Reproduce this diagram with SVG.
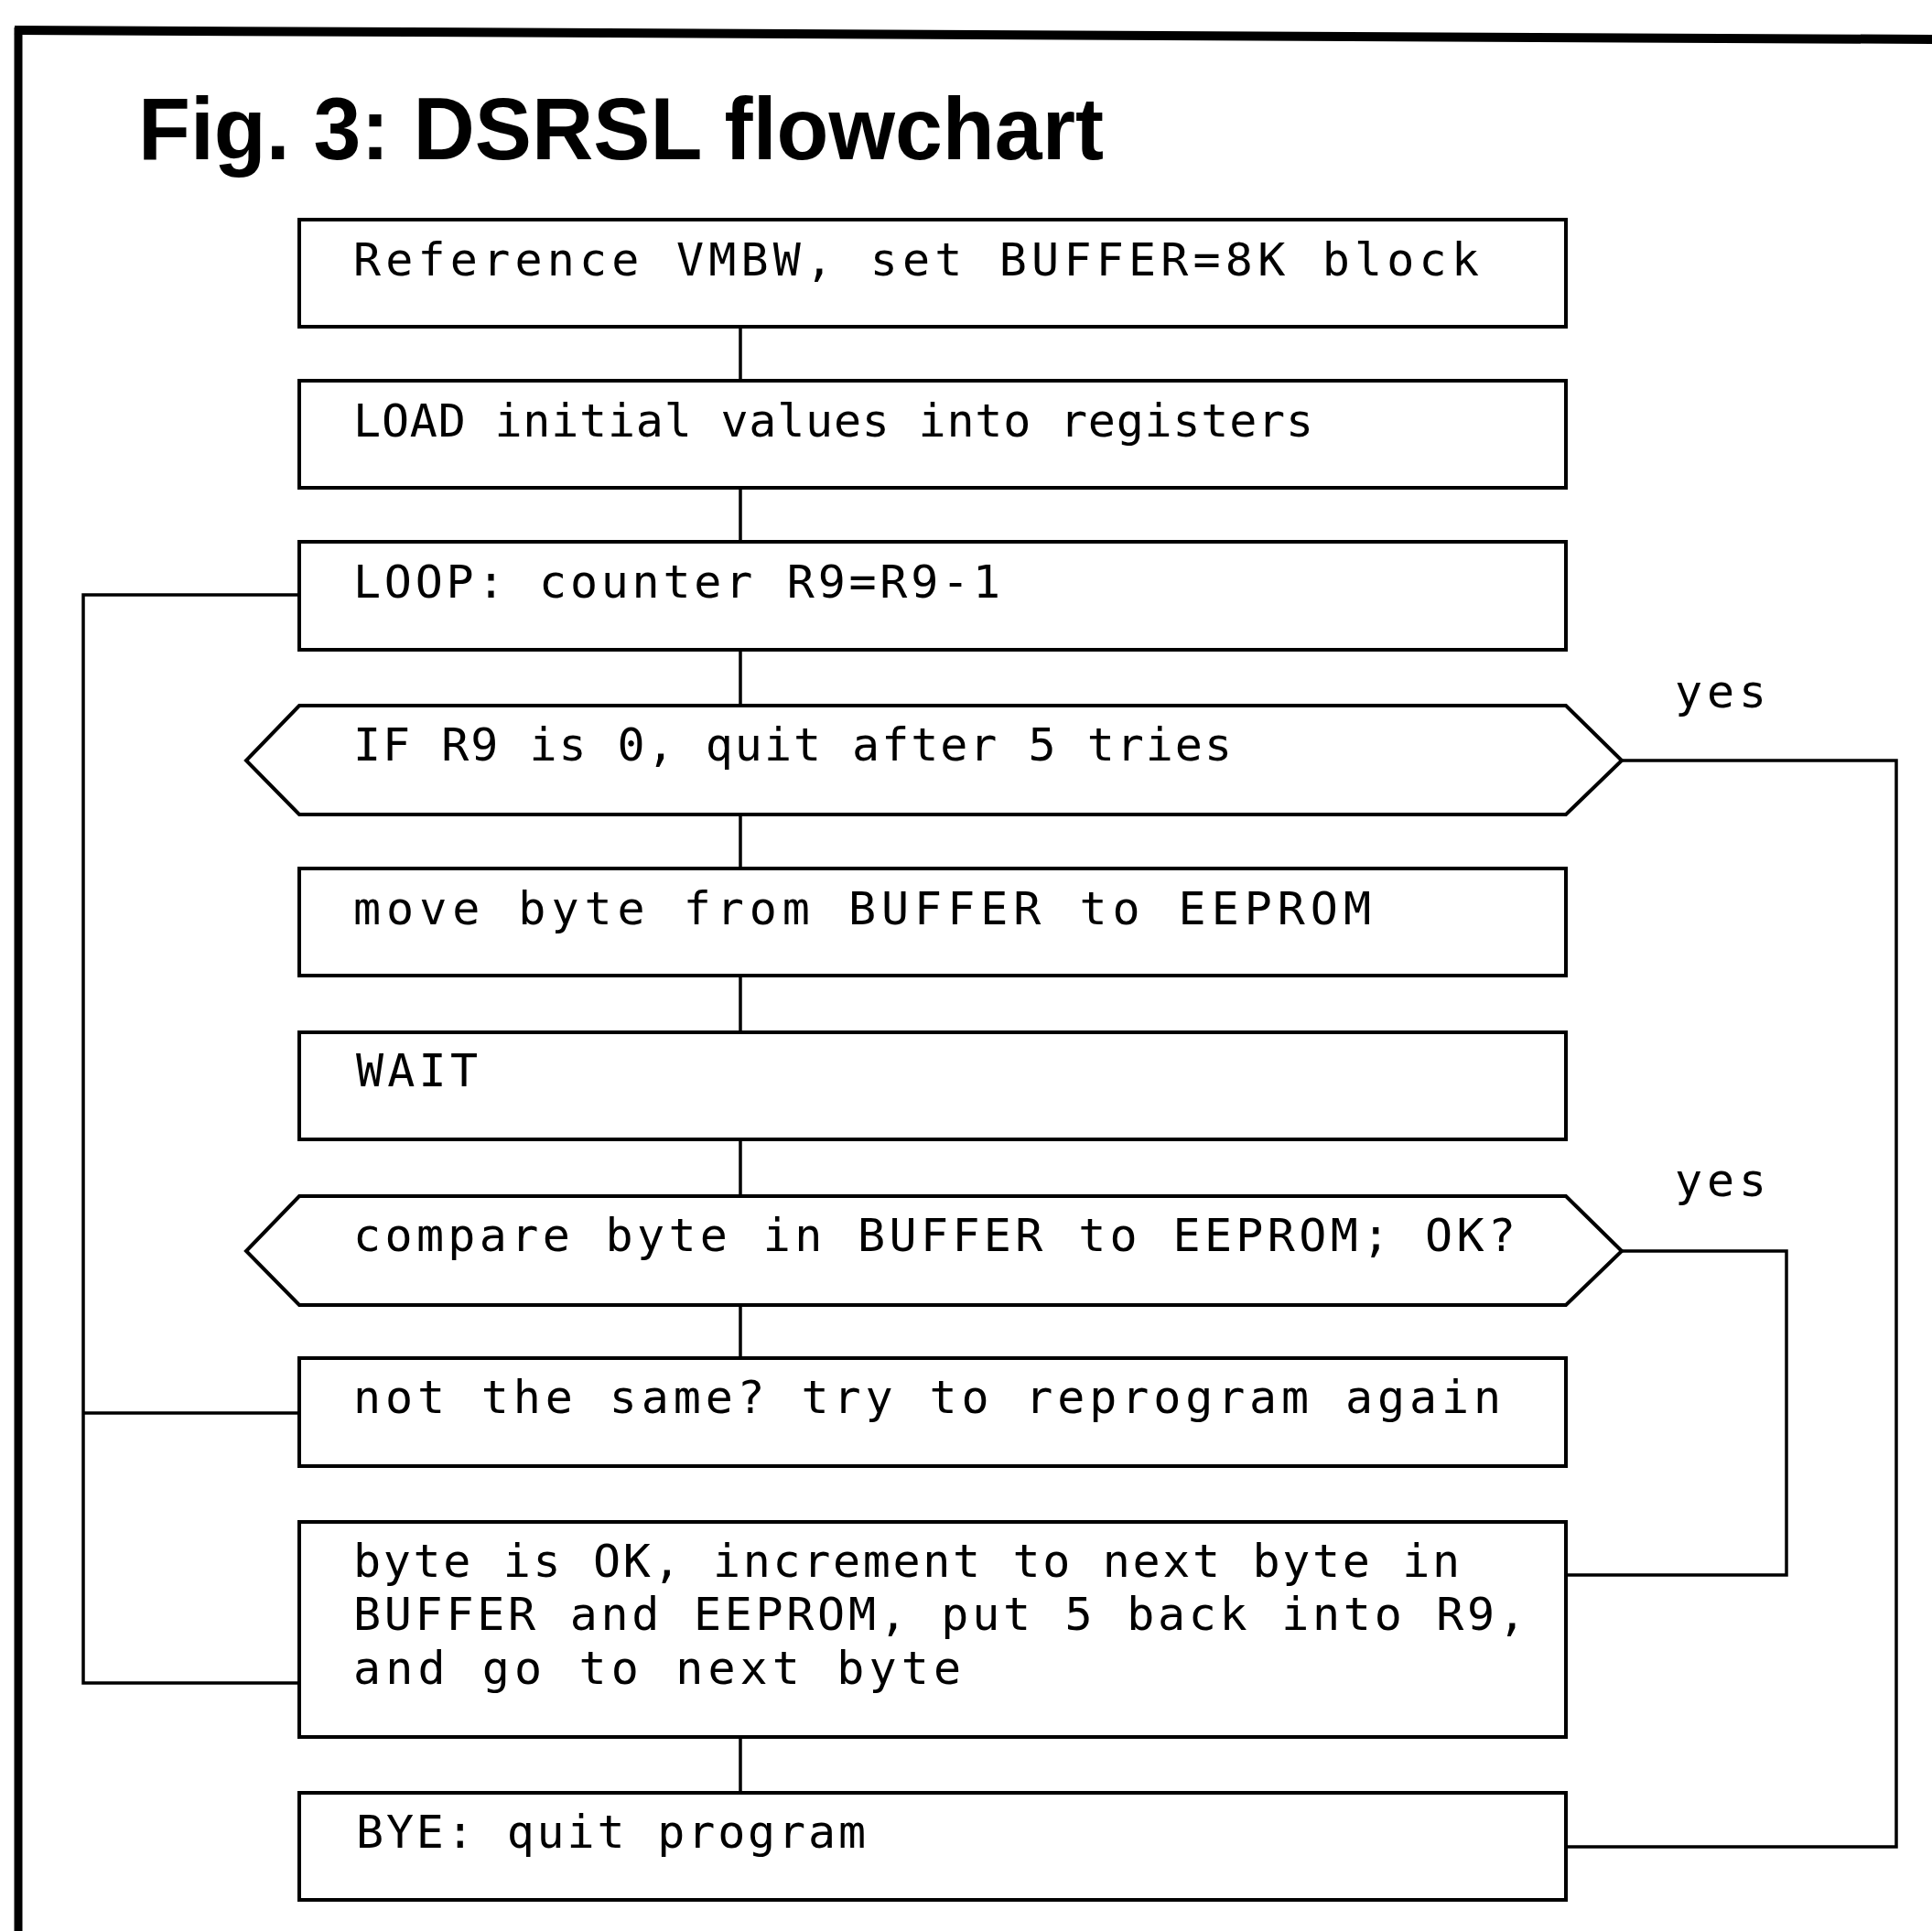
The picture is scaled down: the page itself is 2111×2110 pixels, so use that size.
<svg xmlns="http://www.w3.org/2000/svg" width="2111" height="2110" viewBox="0 0 2111 2110">
<style>
.box{fill:#fff;stroke:#000;stroke-width:4}
.conn{fill:none;stroke:#000;stroke-width:3.5}
.t{font-family:"DejaVu Sans Mono","Liberation Mono",monospace;font-size:50px;fill:#000}
.title{font-family:"Liberation Sans",Arial,sans-serif;font-weight:bold;font-size:96px;fill:#000}
</style>
<rect x="0" y="0" width="2111" height="2110" fill="#fff"/>
<g id="frame">
<line x1="16" y1="33" x2="2111" y2="43" stroke="#000" stroke-width="10"/>
<line x1="20" y1="30" x2="20" y2="2110" stroke="#000" stroke-width="9"/>
</g>
<text class="title" x="151" y="174" textLength="1055" lengthAdjust="spacingAndGlyphs">Fig. 3: DSRSL flowchart</text>
<g id="connectors">
<line class="conn" x1="809" y1="357" x2="809" y2="416"/>
<line class="conn" x1="809" y1="533" x2="809" y2="592"/>
<line class="conn" x1="809" y1="710" x2="809" y2="771"/>
<line class="conn" x1="809" y1="890" x2="809" y2="949"/>
<line class="conn" x1="809" y1="1066" x2="809" y2="1128"/>
<line class="conn" x1="809" y1="1245" x2="809" y2="1307"/>
<line class="conn" x1="809" y1="1426" x2="809" y2="1484"/>
<line class="conn" x1="809" y1="1898" x2="809" y2="1959"/>
<polyline class="conn" points="327,650 91,650 91,1839 327,1839"/>
<line class="conn" x1="91" y1="1544" x2="327" y2="1544"/>
<polyline class="conn" points="1772,831 2072,831 2072,2018 1711,2018"/>
<polyline class="conn" points="1772,1367 1952,1367 1952,1721 1711,1721"/>
<text class="t" x="1830" y="773" textLength="100" lengthAdjust="spacing">yes</text>
<text class="t" x="1830" y="1307" textLength="100" lengthAdjust="spacing">yes</text>
</g>
<g id="n1">
<rect class="box" x="327" y="240" width="1384" height="117"/>
<text class="t" x="386" y="301" textLength="1230" lengthAdjust="spacing">Reference VMBW, set BUFFER=8K block</text>
</g>
<g id="n2">
<rect class="box" x="327" y="416" width="1384" height="117"/>
<text class="t" x="386" y="477" textLength="1049" lengthAdjust="spacing">LOAD initial values into registers</text>
</g>
<g id="n3">
<rect class="box" x="327" y="592" width="1384" height="118"/>
<text class="t" x="386" y="653" textLength="707" lengthAdjust="spacing">LOOP: counter R9=R9-1</text>
</g>
<g id="n4">
<polygon class="box" points="327,771 1711,771 1772,831 1711,890 327,890 269,831"/>
<text class="t" x="386" y="831" textLength="960" lengthAdjust="spacing">IF R9 is 0, quit after 5 tries</text>
</g>
<g id="n5">
<rect class="box" x="327" y="949" width="1384" height="117"/>
<text class="t" x="386" y="1010" textLength="1112" lengthAdjust="spacing">move byte from BUFFER to EEPROM</text>
</g>
<g id="n6">
<rect class="box" x="327" y="1128" width="1384" height="117"/>
<text class="t" x="389" y="1187" textLength="133" lengthAdjust="spacing">WAIT</text>
</g>
<g id="n7">
<polygon class="box" points="327,1307 1711,1307 1772,1367 1711,1426 327,1426 269,1367"/>
<text class="t" x="386" y="1367" textLength="1270" lengthAdjust="spacing">compare byte in BUFFER to EEPROM; OK?</text>
</g>
<g id="n8">
<rect class="box" x="327" y="1484" width="1384" height="118"/>
<text class="t" x="386" y="1544" textLength="1254" lengthAdjust="spacing">not the same? try to reprogram again</text>
</g>
<g id="n9">
<rect class="box" x="327" y="1663" width="1384" height="235"/>
<text class="t" x="386" y="1723" textLength="1209" lengthAdjust="spacing">byte is OK, increment to next byte in</text>
<text class="t" x="386" y="1781" textLength="1281" lengthAdjust="spacing">BUFFER and EEPROM, put 5 back into R9,</text>
<text class="t" x="386" y="1840" textLength="664" lengthAdjust="spacing">and go to next byte</text>
</g>
<g id="n10">
<rect class="box" x="327" y="1959" width="1384" height="117"/>
<text class="t" x="389" y="2019" textLength="557" lengthAdjust="spacing">BYE: quit program</text>
</g>
</svg>
